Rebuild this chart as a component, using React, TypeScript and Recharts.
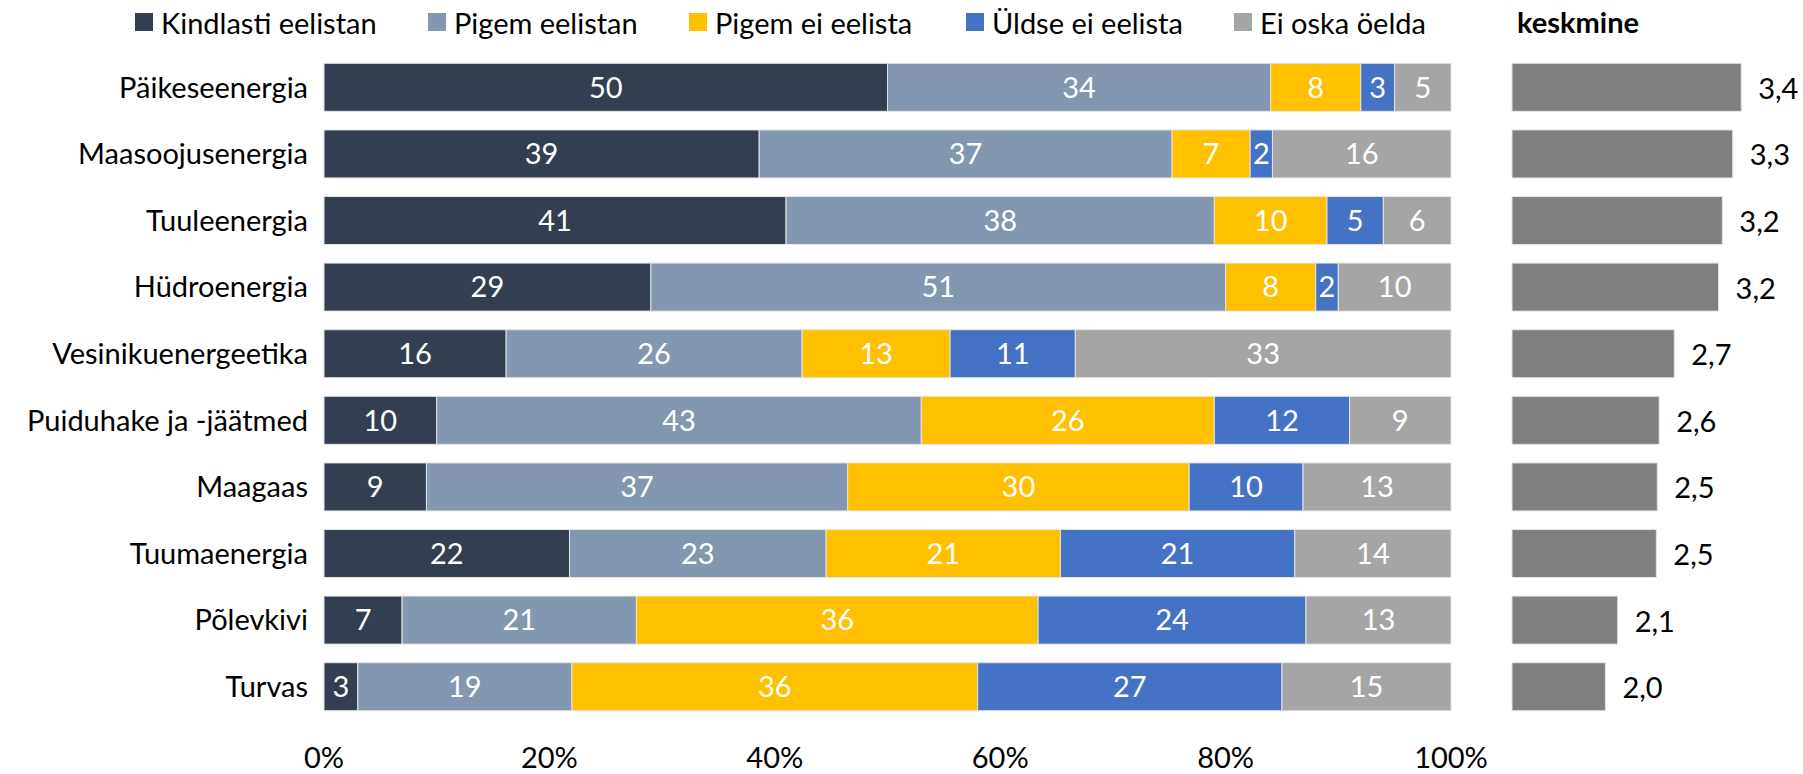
import React from 'react';
import { BarChart, Bar, XAxis, YAxis, LabelList } from 'recharts';

const categories = [
  'Päikeseenergia',
  'Maasoojusenergia',
  'Tuuleenergia',
  'Hüdroenergia',
  'Vesinikuenergeetika',
  'Puiduhake ja -jäätmed',
  'Maagaas',
  'Tuumaenergia',
  'Põlevkivi',
  'Turvas',
];

const kindlasti = [50, 39, 41, 29, 16, 10, 9, 22, 7, 3];
const pigem = [34, 37, 38, 51, 26, 43, 37, 23, 21, 19];
const pigemEi = [8, 7, 10, 8, 13, 26, 30, 21, 36, 36];
const uldseEi = [3, 2, 5, 2, 11, 12, 10, 21, 24, 27];
const eiOska = [5, 16, 6, 10, 33, 9, 13, 14, 13, 15];
const keskmine = [3.43, 3.34, 3.23, 3.19, 2.72, 2.56, 2.54, 2.53, 2.12, 1.99];

const percentTicks = [0, 0.2, 0.4, 0.6, 0.8, 1];

const series = [
  { key: 'kindlasti', name: 'Kindlasti eelistan', color: '#333f50', left: 135 },
  { key: 'pigem', name: 'Pigem eelistan', color: '#8497b0', left: 428 },
  { key: 'pigemEi', name: 'Pigem ei eelista', color: '#ffc000', left: 689 },
  { key: 'uldseEi', name: 'Üldse ei eelista', color: '#4472c4', left: 966 },
  { key: 'eiOska', name: 'Ei oska öelda', color: '#a5a5a5', left: 1234 },
];

const data = categories.map((name, i) => ({
  name,
  kindlasti: kindlasti[i],
  pigem: pigem[i],
  pigemEi: pigemEi[i],
  uldseEi: uldseEi[i],
  eiOska: eiOska[i],
  keskmine: keskmine[i],
}));

const FONT = 'Lato, "Open Sans", sans-serif';
const FS = 29;

const AvgLabel = (props: any) => {
  const { x, y, width, height, value } = props;
  return (
    <text x={x + width + 17} y={y + height / 2} dominantBaseline="central" textAnchor="start" fill="#000" fontSize={FS}>
      {Number(value).toFixed(1).replace('.', ',')}
    </text>
  );
};

export default function App() {
  return (
    <div style={{ position: 'absolute', left: 0, top: 0, width: 1803, height: 774, background: '#fff', fontFamily: FONT, overflow: 'hidden' }}>
      {/* legend */}
      {series.map((s) => (
        <div key={s.key} style={{ position: 'absolute', left: s.left, top: 3, height: 38, display: 'flex', alignItems: 'center', fontSize: FS, color: '#000', whiteSpace: 'nowrap' }}>
          <span style={{ display: 'inline-block', width: 18, height: 18, background: s.color, marginRight: 8 }} />
          <span>{s.name}</span>
        </div>
      ))}
      <div style={{ position: 'absolute', left: 1517, top: 3, height: 38, lineHeight: '38px', fontSize: FS, fontWeight: 700, color: '#000' }}>keskmine</div>

      <div style={{ position: 'absolute', left: 0, top: 0 }}>
        <BarChart
          width={1500}
          height={774}
          data={data}
          layout="vertical"
          stackOffset="expand"
          barCategoryGap="14%"
          margin={{ top: 54, right: 49, bottom: 0, left: 0 }}
        >
          <XAxis
            type="number"
            domain={[0, 1]}
            ticks={percentTicks}
            tickFormatter={(v: number) => `${Math.round(v * 100)}%`}
            axisLine={false}
            tickLine={false}
            tickSize={0}
            tickMargin={27}
            height={54}
            interval={0}
            tick={{ fill: '#000', fontSize: FS }}
          />
          <YAxis
            type="category"
            dataKey="name"
            width={324}
            axisLine={false}
            tickLine={false}
            tickSize={0}
            tickMargin={16}
            interval={0}
            tick={{ fill: '#000', fontSize: FS }}
          />
          {series.map((s) => (
            <Bar key={s.key} dataKey={s.key} name={s.name} stackId="a" fill={s.color} stroke="#e4e4e4" strokeWidth={1} isAnimationActive={false}>
              <LabelList dataKey={s.key} position="center" fill="#fff" fontSize={FS} />
            </Bar>
          ))}
        </BarChart>
      </div>

      <div style={{ position: 'absolute', left: 1480, top: 0 }}>
        <BarChart
          width={323}
          height={774}
          data={data}
          layout="vertical"
          barCategoryGap="14%"
          margin={{ top: 54, right: 8, bottom: 54, left: 32 }}
        >
          <XAxis type="number" domain={[1, 4]} hide />
          <YAxis type="category" dataKey="name" hide />
          <Bar dataKey="keskmine" fill="#7f7f7f" stroke="#e4e4e4" strokeWidth={1} isAnimationActive={false}>
            <LabelList dataKey="keskmine" content={AvgLabel} />
          </Bar>
        </BarChart>
      </div>
    </div>
  );
}
